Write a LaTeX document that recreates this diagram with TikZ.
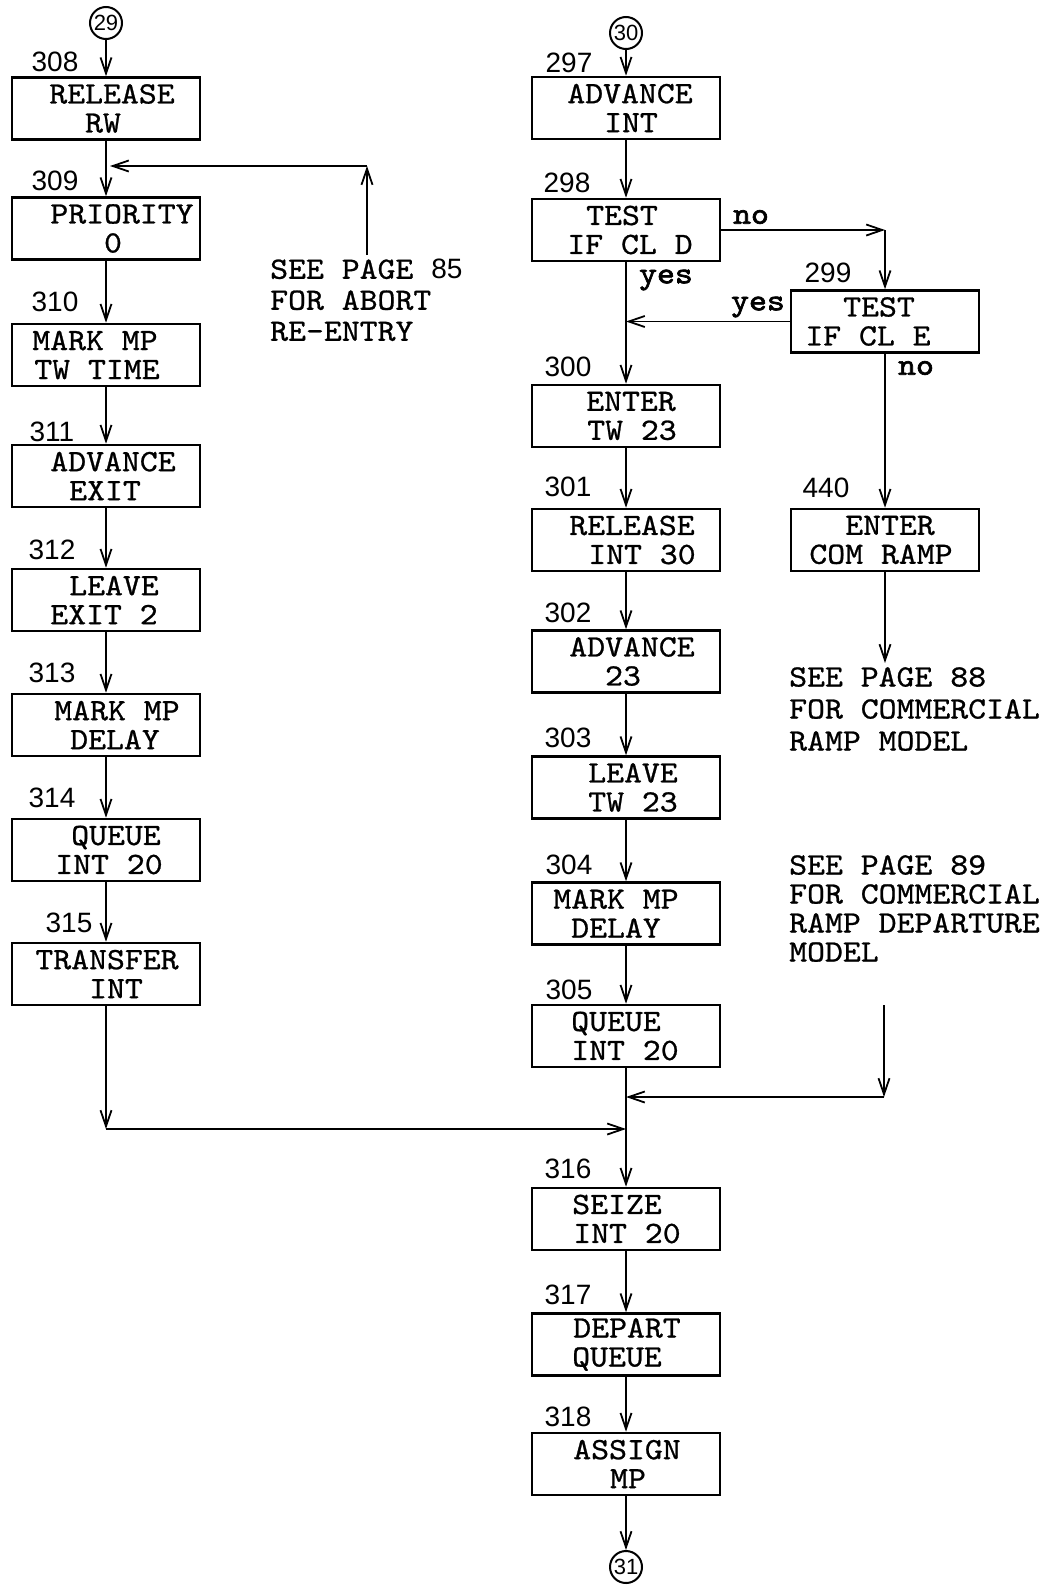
\documentclass[tikz,border=0pt]{standalone}
\usepackage{fontspec}
\usetikzlibrary{arrows.meta}
\newfontfamily\typefont{lmmono10-regular.otf}[FakeStretch=1.1, FakeBold=0.8]
\newfontfamily\ynfont{lmmono10-regular.otf}[FakeStretch=1.1, FakeBold=2.2]
\newfontfamily\handfont{Liberation Sans}
\newcommand{\mvl}[2]{\hspace*{#1pt}#2\hspace*{-#1pt}}
\tikzset{
 blk/.style={draw, line width=2.6pt, minimum width=188pt, minimum height=62pt, inner sep=0pt, align=center, font={\typefont\fontsize{31}{29}\selectfont}},
 num/.style={inner sep=0pt, font={\handfont\fontsize{28}{28}\selectfont}},
 note/.style={inner sep=0pt, align=left, anchor=north west},
 yn/.style={inner sep=0pt, font={\ynfont\fontsize{31}{30}\selectfont}},
 conn/.style={draw, circle, line width=2pt, minimum size=32pt, inner sep=0pt, font={\handfont\fontsize{22}{22}\selectfont}},
 flow/.style={line width=1.8pt, -{Straight Barb[length=16pt,width=11pt]}},
}
\begin{document}
\begin{tikzpicture}[x=1pt,y=-1pt]
\fill[white] (0,0) rectangle (1053,1585);
\useasboundingbox (0,0) rectangle (1053,1585);

% left column
\node[conn] (c29) at (106,23) {29};
\node[blk] (b308) at (106,108.5) {\mvl{6}{RELEASE}\\\mvl{-3}{RW}};
\node[blk] (b309) at (106,228.5) {\mvl{16}{PRIORITY}\\\mvl{7}{0}};
\node[blk] (b310) at (106,355) {\mvl{-11}{MARK MP}\\\mvl{-9}{TW TIME}};
\node[blk] (b311) at (106,476) {\mvl{7}{ADVANCE}\\\mvl{-1}{EXIT}};
\node[blk] (b312) at (106,600) {\mvl{8}{LEAVE}\\\mvl{-2}{EXIT 2}};
\node[blk] (b313) at (106,725) {\mvl{11}{MARK MP}\\\mvl{9}{DELAY}};
\node[blk] (b314) at (106,850) {\mvl{10}{QUEUE}\\\mvl{3}{INT 20}};
\node[blk] (b315) at (106,974) {\mvl{1}{TRANSFER}\\\mvl{10}{INT}};

\node[num] (n308) at (55,62) {308};
\node[num] (n309) at (55,181) {309};
\node[num] (n310) at (55,302) {310};
\node[num] (n311) at (52,432) {311};
\node[num] (n312) at (52,550) {312};
\node[num] (n313) at (52,673) {313};
\node[num] (n314) at (52,798) {314};
\node[num] (n315) at (69,923) {315};

% right column
\node[conn] (c30) at (626,33) {30};
\node[blk] (b297) at (626,108) {\mvl{4}{ADVANCE}\\\mvl{5}{INT}};
\node[blk] (b298) at (626,230) {\mvl{-4}{TEST}\\\mvl{4}{IF CL D}};
\node[blk] (b300) at (626,416) {\mvl{5}{ENTER}\\\mvl{6}{TW 23}};
\node[blk] (b301) at (626,540) {\mvl{6}{RELEASE}\\\mvl{16}{INT 30}};
\node[blk] (b302) at (626,661.5) {\mvl{6}{ADVANCE}\\\mvl{-3}{23}};
\node[blk] (b303) at (626,787.5) {\mvl{7}{LEAVE}\\\mvl{7}{TW 23}};
\node[blk] (b304) at (626,913.5) {\mvl{-10}{MARK MP}\\\mvl{-10}{DELAY}};
\node[blk] (b305) at (626,1036) {\mvl{-10}{QUEUE}\\\mvl{-1}{INT 20}};
\node[blk] (b316) at (626,1219) {\mvl{-9}{SEIZE}\\\mvl{1}{INT 20}};
\node[blk] (b317) at (626,1344.5) {\mvl{1}{DEPART}\\\mvl{-9}{QUEUE}};
\node[blk] (b318) at (626,1464) {\mvl{1}{ASSIGN}\\\mvl{2}{MP}};
\node[conn] (c31) at (626,1567) {31};

\node[num] (n297) at (569,63) {297};
\node[num] (n298) at (567,183) {298};
\node[num] (n300) at (568,367) {300};
\node[num] (n301) at (568,487) {301};
\node[num] (n302) at (568,613) {302};
\node[num] (n303) at (568,738) {303};
\node[num] (n304) at (569,865) {304};
\node[num] (n305) at (569,990) {305};
\node[num] (n316) at (568,1169) {316};
\node[num] (n317) at (568,1295) {317};
\node[num] (n318) at (568,1417) {318};

% third column
\node[blk] (b299) at (885,321.5) {\mvl{-6}{TEST}\\\mvl{-17}{IF CL E}};
\node[blk] (b440) at (885,540) {\mvl{5}{ENTER}\\\mvl{-4}{COM RAMP}};
\node[num] (n299) at (828,273) {299};
\node[num] (n440) at (826,488) {440};

% yes / no
\node[yn] (no1) at (751,217) {no};
\node[yn] (yes1) at (666,280) {yes};
\node[yn] (yes2) at (758,307) {yes};
\node[yn] (no2) at (916,368) {no};

% notes
\node[note, font={\typefont\fontsize{31}{31}\selectfont}] (t85) at (270,259)
  {SEE PAGE {\handfont\fontsize{28}{31}\selectfont 85}\\FOR ABORT\\RE-ENTRY};
\node[note, font={\typefont\fontsize{31}{32}\selectfont}] (t88) at (789,667)
  {SEE PAGE 88\\FOR COMMERCIAL\\RAMP MODEL};
\node[note, font={\typefont\fontsize{31}{29}\selectfont}] (t89) at (789,855)
  {SEE PAGE 89\\FOR COMMERCIAL\\RAMP DEPARTURE\\MODEL};

% coordinates
\coordinate (fbs) at (367,255);
\coordinate (fbc) at (367,166);
\coordinate (fbe) at (110,166);
\coordinate (nc) at (b298.east -| b299.north);
\coordinate (yc) at (b299.west -| b298.south);
\coordinate (p88) at (885,663);
\coordinate (lc) at (106,1129);
\coordinate (mj) at (626,1129);
\coordinate (rs) at (884,1005);
\coordinate (rc) at (884,1097);
\coordinate (mj2) at (626,1097);

% connectors left
\draw[flow] (c29) -- (b308);
\draw[flow] (b308) -- (b309);
\draw[flow] (b309) -- (b310);
\draw[flow] (b310) -- (b311);
\draw[flow] (b311) -- (b312);
\draw[flow] (b312) -- (b313);
\draw[flow] (b313) -- (b314);
\draw[flow] (b314) -- (b315);
\draw[flow] (b315) -- (lc);
\draw[flow] (lc) -- (mj);
\draw[flow] (fbs) -- (fbc);
\draw[flow] (fbc) -- (fbe);

% connectors right
\draw[flow] (c30) -- (b297);
\draw[flow] (b297) -- (b298);
\draw[flow] (b298.east) -- (nc);
\draw[flow] (nc) -- (b299);
\draw[flow] (b299.west) -- (yc);
\draw[flow] (b298) -- (b300);
\draw[flow] (b299) -- (b440);
\draw[flow] (b440) -- (p88);
\draw[flow] (b300) -- (b301);
\draw[flow] (b301) -- (b302);
\draw[flow] (b302) -- (b303);
\draw[flow] (b303) -- (b304);
\draw[flow] (b304) -- (b305);
\draw[flow] (b305) -- (b316);
\draw[flow] (rs) -- (rc);
\draw[flow] (rc) -- (mj2);
\draw[flow] (b316) -- (b317);
\draw[flow] (b317) -- (b318);
\draw[flow] (b318) -- (c31);
\end{tikzpicture}
\end{document}
